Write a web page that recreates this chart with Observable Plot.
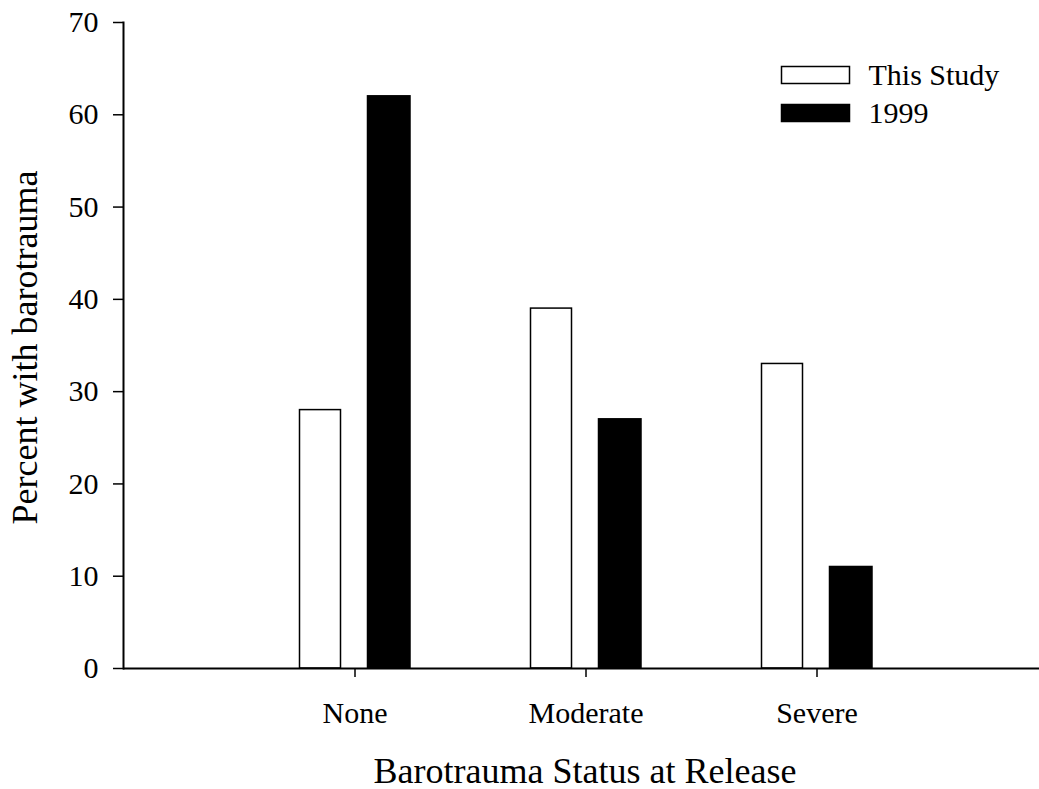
<!DOCTYPE html>
<html>
<head>
<meta charset="utf-8">
<script src="https://cdn.jsdelivr.net/npm/d3@7"></script>
<script src="https://cdn.jsdelivr.net/npm/@observablehq/plot@0.6"></script>
<style>
  html, body { margin: 0; padding: 0; background: #fff; }
  #chart svg { display: block; }
</style>
</head>
<body>
<div id="chart"></div>
<script>
// Barotrauma status at release, percent of fish
const categories = ["None", "Moderate", "Severe"];
const thisStudy = [28, 39, 33];
const study1999 = [62, 27, 11];
const seriesNames = ["This Study", "1999"];
const yTicks = [0, 10, 20, 30, 40, 50, 60, 70];
const xTitle = "Barotrauma Status at Release";
const yTitle = "Percent with barotrauma";

const rows = categories.flatMap((c, i) => [
  {category: c, series: seriesNames[0], value: thisStudy[i]},
  {category: c, series: seriesNames[1], value: study1999[i]}
]);

const W = 1039, H = 789;
const font = "'Liberation Serif', 'Times New Roman', serif";

const chart = Plot.plot({
  width: W,
  height: H,
  marginLeft: 123,
  marginRight: 0,
  marginTop: 22,
  marginBottom: 121,
  style: {fontFamily: font, fontSize: "30px", color: "#000", background: "#fff"},
  x: {type: "band", domain: categories, range: [123.5, 1047.5], paddingInner: 0, paddingOuter: 0.5},
  y: {domain: [0, 70], ticks: yTicks},
  marks: [
    Plot.barY(rows.filter(d => d.series === seriesNames[0]), {
      x: "category", y: "value", fill: "white", stroke: "black", strokeWidth: 1.5,
      insetLeft: 60.5, insetRight: 129.5
    }),
    Plot.barY(rows.filter(d => d.series === seriesNames[1]), {
      x: "category", y: "value", fill: "black", stroke: "black", strokeWidth: 1.5,
      insetLeft: 128.5, insetRight: 60
    }),
    Plot.ruleY([0], {stroke: "black", strokeWidth: 2}),
    Plot.frame({anchor: "left", stroke: "black", strokeWidth: 2}),
    Plot.axisY({ticks: yTicks, tickSize: 10, tickPadding: 15, fontSize: 30, strokeWidth: 1.5, label: null}),
    Plot.axisX({tickSize: 9, tickPadding: 24, fontSize: 30, strokeWidth: 1.5, label: null}),
    Plot.text([xTitle], {text: d => d, frameAnchor: "bottom", dx: 3.5, dy: 114, lineAnchor: "bottom", fontSize: 36}),
    Plot.text([yTitle], {text: d => d, frameAnchor: "left", textAnchor: "middle", rotate: -90, dx: -87, dy: 2, lineAnchor: "bottom", fontSize: 36})
  ]
});

document.getElementById("chart").appendChild(chart);

// Legend in the upper right of the plot area
const svg = d3.select(chart);
const legend = svg.append("g")
  .attr("font-family", font)
  .style("font-size", "30px")
  .attr("text-anchor", "start");
const fills = ["white", "black"];
seriesNames.forEach((name, i) => {
  const g = legend.append("g").attr("transform", `translate(781.5, ${66.5 + i * 38})`);
  g.append("rect").attr("width", 68).attr("height", 17)
    .attr("fill", fills[i]).attr("stroke", "black").attr("stroke-width", 1.5);
  g.append("text").attr("x", 87).attr("y", 18.5).attr("fill", "black")
    .style("text-anchor", "start").text(name);
});
</script>
</body>
</html>
